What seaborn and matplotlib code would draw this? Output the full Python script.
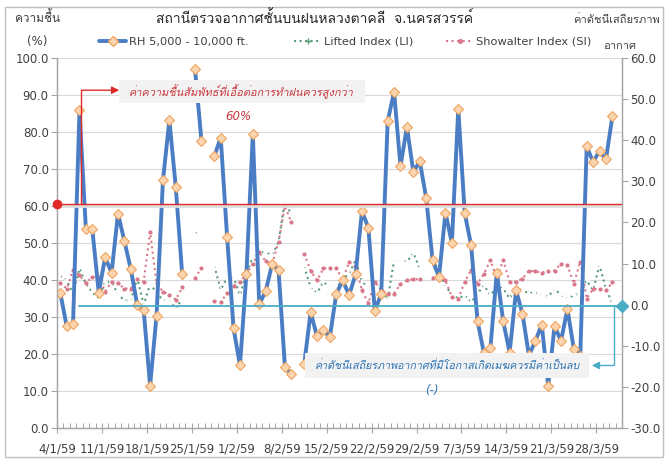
import numpy as np
import pandas as pd
import seaborn as sns
import matplotlib.pyplot as plt
from matplotlib import font_manager, ft2font
from matplotlib.lines import Line2D
from matplotlib.patches import Rectangle

# ข้อมูลรายวัน 4/1/59 - 31/3/59 (None = ไม่มีข้อมูล)
date_labels = ["4/1/59", "11/1/59", "18/1/59", "25/1/59", "1/2/59", "8/2/59", "15/2/59",
               "22/2/59", "29/2/59", "7/3/59", "14/3/59", "21/3/59", "28/3/59"]

rh = [36.6, 27.6, 28.2, 85.9, 53.7, 53.7, 36.6, 46.1, 42.0, 57.9,
      50.5, 42.9, 33.2, 31.8, 11.4, 30.3, 66.9, 83.2, 65.1, 41.5,
      None, 96.9, 77.6, None, 73.4, 78.5, 51.5, 26.9, 16.9, 41.7,
      79.4, 33.4, 37.0, 44.2, 42.8, 16.5, 14.5, None, 17.2, 31.3,
      24.8, 26.4, 24.6, 36.3, 39.9, 35.9, 41.5, 58.6, 54.1, 31.6,
      36.3, 82.9, 90.8, 70.7, 81.4, 69.2, 72.1, 62.2, 45.3, 40.8,
      58.2, 50.0, 86.3, 58.1, 49.4, 28.9, 20.2, 21.6, 42.0, 28.8,
      20.4, 37.2, 30.9, 19.6, 23.5, 27.9, 11.4, 27.6, 23.5, 32.2,
      21.3, 19.5, 76.1, 71.9, 74.9, 72.6, 84.2, None]

li = [7.1, 5.9, 2.7, 8.8, 5.0, 3.0, 1.5, 5.5, 5.5, 2.5,
      1.0, 1.0, 6.5, 0.0, 5.0, 3.0, 1.0, 1.0, -1.0, 1.5,
      None, 17.3, 18.0, None, 9.5, 3.6, 6.6, 6.7, 2.3, 7.5,
      11.6, 12.8, 12.8, 12.1, 15.2, 25.4, 21.7, None, 9.3, 4.2,
      2.9, 5.5, 4.4, 4.0, 6.2, 7.5, 10.8, 5.6, 4.3, 4.3,
      4.0, 1.2, 10.8, 10.8, 10.4, 12.6, 8.8, None, 10.8, 8.4,
      4.3, 2.7, 1.5, 2.3, 0.6, 2.7, 4.7, 2.3, 4.3, 3.9,
      1.5, 4.3, 3.5, 2.7, 3.1, 2.3, 1.9, 3.9, 2.3, 1.5,
      2.3, 2.7, 5.9, 3.5, 9.6, 3.9, 0.3, None]

si = [5.3, 3.9, 8.4, 7.1, 5.3, 6.7, 6.7, 3.2, 5.6, 5.2,
      3.9, 3.9, 6.2, 5.6, 17.7, 5.2, 3.2, 2.4, 1.2, 4.2,
      None, 6.4, 9.0, None, 0.9, 0.6, 2.9, 4.5, 5.5, 7.5,
      10.0, 12.7, 10.6, 9.8, 15.2, 24.0, 20.0, None, 12.4, 8.3,
      5.9, 8.8, 9.0, 8.8, 6.1, 10.4, 9.2, 3.5, 0.3, 5.6,
      3.5, 2.7, 2.7, 5.0, 5.9, 6.2, 6.2, None, 6.5, 7.1,
      5.9, 1.9, 1.5, 5.5, 8.4, 5.1, 7.5, 10.8, 6.5, 10.8,
      5.6, 5.6, 6.3, 8.3, 8.1, 7.8, 8.1, 8.3, 10.0, 9.6,
      5.1, 10.5, 1.5, 3.8, 3.8, 3.5, 5.4, None]

series_names = ["RH 5,000 - 10,000 ft.", "Lifted Index (LI)", "Showalter Index (SI)"]


def thai_family():
    # หา font ที่มีอักษรไทย
    for f in font_manager.fontManager.ttflist:
        try:
            if ft2font.FT2Font(f.fname).get_char_index(0x0E04):
                return f.name
        except Exception:
            continue
    return "DejaVu Sans"


sns.set_theme(style="white")
plt.rcParams["font.family"] = ["DejaVu Sans", thai_family()]

df = pd.DataFrame({"day": np.arange(len(rh)), "rh": rh, "li": li, "si": si})
for col in ["rh", "li", "si"]:
    df[col + "_seg"] = df[col].isna().cumsum()

W, H = 666, 462
fx = lambda x: x / W
fy = lambda y: 1 - y / H

blue = "#4A7DC4"
green = "#5A9C7C"
pink = "#D8788A"
red = "#E02A2A"
cyan = "#4BACC6"
axis_gray = "#A6A6A6"
txt = "#404040"
mface, medge = "#FBD5B0", "#F0A45E"

fig = plt.figure(figsize=(W / 100, H / 100), dpi=100)
ax = fig.add_axes([fx(57), fy(428), (622 - 57) / W, (428 - 58) / H])
ax2 = ax.twinx()
ax.set_zorder(ax2.get_zorder() + 1)
ax.patch.set_visible(False)

# gridlines ตามแกนซ้าย (วาดบนแกนขวาให้อยู่ใต้เส้นข้อมูล)
ax2.hlines(np.arange(0, 101, 10) * 0.9 - 30, -0.5, 87.5, color="#D9D9D9", lw=0.8, zorder=0)

sns.lineplot(data=df, x="day", y="li", units="li_seg", estimator=None, ax=ax2,
             color=green, lw=1.5, linestyle=":", marker="+", markersize=4.5,
             markeredgewidth=1.1)
sns.lineplot(data=df, x="day", y="si", units="si_seg", estimator=None, ax=ax2,
             color=pink, lw=1.5, linestyle=":", marker="o", markersize=3,
             markeredgewidth=0)
sns.lineplot(data=df, x="day", y="rh", units="rh_seg", estimator=None, ax=ax,
             color=blue, lw=2.8, marker="D", markersize=5.3,
             markerfacecolor=mface, markeredgecolor=medge, markeredgewidth=0.8)

ax.set_xlim(-0.5, 87.5)
ax.set_ylim(0, 100)
ax2.set_ylim(-30, 60)
ax.set_xticks(np.arange(0, 85, 7) - 0.5)
ax.set_xticklabels(date_labels)
ax.set_xticks(np.arange(88) - 0.5, minor=True)
ax.set_yticks(np.arange(0, 101, 10))
ax.set_yticklabels([f"{v:.1f}" for v in range(0, 101, 10)])
ax2.set_yticks(np.arange(-30, 61, 10))
ax2.set_yticklabels([f"{v:.1f}" for v in range(-30, 61, 10)])
ax.set_xlabel("")
ax.set_ylabel("")
ax2.set_ylabel("")

for a in (ax, ax2):
    for s in a.spines.values():
        s.set_color(axis_gray)
        s.set_linewidth(0.9)
    a.spines["top"].set_visible(False)
ax.tick_params(axis="x", which="major", direction="inout", length=7, width=0.8,
               color=axis_gray, labelsize=8.5, labelcolor=txt, pad=7, bottom=True)
ax.tick_params(axis="x", which="minor", direction="in", length=3.5, width=0.7,
               color=axis_gray, bottom=True)
ax.tick_params(axis="y", direction="out", length=4, width=0.8, color=axis_gray,
               labelsize=8.5, labelcolor=txt, pad=2, left=True)
ax2.tick_params(axis="y", direction="out", length=4, width=0.8, color=axis_gray,
                labelsize=8.5, labelcolor=txt, pad=2, right=True)

# คำอธิบาย: เส้นความชื้น 60%
ax.plot([-0.5, 87.5], [60.0, 60.0], color="#DDDDDD", lw=2.0, zorder=3)
ax.plot([-0.5, 87.5], [60.5, 60.5], color=red, lw=1.0, zorder=3)
ax.plot([-0.5], [60.5], "o", color=red, ms=6, clip_on=False, zorder=6)
ax.plot([3.3, 3.3], [60.5, 91.3], color=red, lw=1.0, zorder=3)
ax.annotate("", xy=(9.2, 91.3), xytext=(3.3, 91.3),
            arrowprops=dict(arrowstyle="-|>", color=red, lw=1.0, mutation_scale=11,
                            shrinkA=0, shrinkB=0), zorder=6)
ax.add_patch(Rectangle((9.2, 87.8), 38.3, 6.2, fc="#F2F2F2", ec="none", zorder=5))
ax.text(10.6, 91.0, "ค่าความชื้นสัมพัทธ์ที่เอื้อต่อการทำฝนควรสูงกว่า", color="#C8373D",
        fontsize=7.9, style="italic", ha="left", va="center", zorder=7)
ax.text(27.8, 84.2, "60%", color="#C8373D", fontsize=8.5, style="italic",
        ha="center", va="center", zorder=7)

# คำอธิบาย: ค่าดัชนีเสถียรภาพ < 0
ax.plot([3.0, 87.5], [33.0, 33.0], color=cyan, lw=1.3, zorder=4, clip_on=False)
ax.plot([87.5], [33.0], "D", color=cyan, ms=6, clip_on=False, zorder=6)
ax.plot([86.2, 86.2], [33.0, 16.9], color=cyan, lw=1.0, zorder=4)
ax.annotate("", xy=(82.8, 16.9), xytext=(86.2, 16.9),
            arrowprops=dict(arrowstyle="-|>", color=cyan, lw=1.0, mutation_scale=11,
                            shrinkA=0, shrinkB=0), zorder=6)
ax.add_patch(Rectangle((38.2, 13.4), 44.2, 6.8, fc="#F2F2F2", ec="none", zorder=5))
ax.text(39.7, 16.9, "ค่าดัชนีเสถียรภาพอากาศที่มีโอกาสเกิดเมฆควรมีค่าเป็นลบ", color="#2E74B5",
        fontsize=7.7, style="italic", ha="left", va="center", zorder=7)
ax.text(57.9, 10.2, "(-)", color="#2E74B5", fontsize=8.5, style="italic",
        ha="center", va="center", zorder=7)

# หัวเรื่องและป้ายแกน
fig.text(fx(315), fy(18), "สถานีตรวจอากาศชั้นบนฝนหลวงตาคลี  จ.นครสวรรค์", ha="center",
         va="center", fontsize=10, color="#262626")
fig.text(fx(38), fy(18), "ความชื้น", ha="center", va="center", fontsize=8.5, color=txt)
fig.text(fx(37), fy(42), "(%)", ha="center", va="center", fontsize=8.5, color=txt)
fig.text(fx(617), fy(20), "ค่าดัชนีเสถียรภาพ", ha="center", va="center", fontsize=8, color=txt)
fig.text(fx(620), fy(46), "อากาศ", ha="center", va="center", fontsize=8, color=txt)

# legend แยกทีละรายการ
handles = [
    Line2D([], [], color=blue, lw=2.8, marker="D", markersize=5,
           markerfacecolor=mface, markeredgecolor=medge),
    Line2D([], [], color=green, lw=1.5, linestyle=":", marker="+", markersize=4),
    Line2D([], [], color=pink, lw=1.5, linestyle=":", marker="o", markersize=2.6),
]
for h, name, x0 in zip(handles, series_names, [99, 294, 446]):
    leg = fig.legend([h], [name], loc="center left", bbox_to_anchor=(fx(x0), fy(42)),
                     frameon=False, fontsize=8.2, handlelength=2.4, handletextpad=0.25,
                     borderpad=0, borderaxespad=0, labelcolor=txt)

fig.add_artist(Rectangle((fx(5), fy(457)), (663 - 5) / W, (457 - 7) / H,
                         transform=fig.transFigure, fill=False, ec="#BFBFBF", lw=1.0))

fig.savefig("out.png", dpi=100)
